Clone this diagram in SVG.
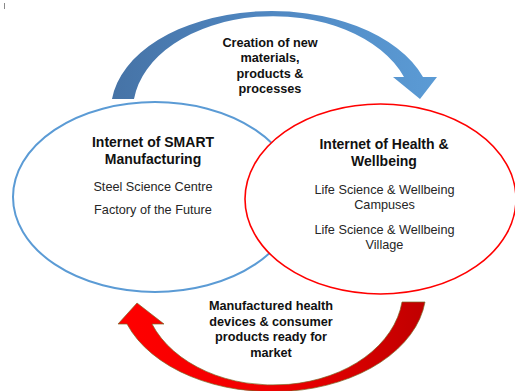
<svg xmlns="http://www.w3.org/2000/svg" width="515" height="391" viewBox="0 0 515 391">
  <defs>
    <linearGradient id="blueGrad" x1="0" y1="0" x2="1" y2="0">
      <stop offset="0" stop-color="#4673a6"/>
      <stop offset="0.45" stop-color="#4f86c0"/>
      <stop offset="1" stop-color="#5b9bd5"/>
    </linearGradient>
    <linearGradient id="redGrad" x1="0" y1="0" x2="1" y2="0">
      <stop offset="0" stop-color="#ff0000"/>
      <stop offset="0.5" stop-color="#f00000"/>
      <stop offset="1" stop-color="#c00000"/>
    </linearGradient>
  </defs>
  <style>
    .bold { font-family: "Liberation Sans", Arial, sans-serif; font-weight: bold; fill: #111111; text-anchor: middle; }
    .reg { font-family: "Liberation Sans", Arial, sans-serif; fill: #262626; text-anchor: middle; font-size: 12.7px; }
    .title { font-size: 14px; }
    .lbl { font-size: 12.7px; }
  </style>
  <rect width="515" height="391" fill="#ffffff"/>
  <line x1="4.5" y1="3" x2="4.5" y2="9" stroke="#8a8a8a" stroke-width="1"/>

  <g id="smart-manufacturing">
    <ellipse cx="155" cy="197" rx="142" ry="95" fill="#ffffff" stroke="#5b9bd5" stroke-width="2"/>
    <text class="bold title" x="153" y="146.5">Internet of SMART</text>
    <text class="bold title" x="153" y="163.5">Manufacturing</text>
    <text class="reg" x="153" y="190.7">Steel Science Centre</text>
    <text class="reg" x="153" y="214.3">Factory of the Future</text>
  </g>

  <g id="health-wellbeing">
    <ellipse cx="380.5" cy="199" rx="135.5" ry="95" fill="#ffffff" stroke="#ff0000" stroke-width="1.6"/>
    <text class="bold title" x="384" y="149.3">Internet of Health &amp;</text>
    <text class="bold title" x="384" y="166.3">Wellbeing</text>
    <text class="reg" x="384.5" y="194.3">Life Science &amp; Wellbeing</text>
    <text class="reg" x="384.5" y="209.3">Campuses</text>
    <text class="reg" x="384.5" y="234.3">Life Science &amp; Wellbeing</text>
    <text class="reg" x="384.5" y="249.3">Village</text>
  </g>

  <g id="connectors">
    <g id="top-arrow">
      <path d="M112,99 A160.6,99 0 0 1 423,77 L437,77 L420,99 L393,77 L404,77 A140,94 0 0 0 134,99 Z" fill="url(#blueGrad)"/>
      <text class="bold lbl" x="270" y="46.5">Creation of new</text>
      <text class="bold lbl" x="270" y="62">materials,</text>
      <text class="bold lbl" x="270" y="77.5">products &amp;</text>
      <text class="bold lbl" x="270" y="93">processes</text>
    </g>
    <g id="bottom-arrow">
      <path d="M425,302 A154,102 0 0 1 127,324 L118,324 L137,303 L164,324 L152,324 A129.8,95 0 0 0 402,302 Z" fill="url(#redGrad)" stroke="#7a6a2a" stroke-width="0.7"/>
      <text class="bold lbl" x="271" y="310">Manufactured health</text>
      <text class="bold lbl" x="271" y="325.5">devices &amp; consumer</text>
      <text class="bold lbl" x="271" y="341">products ready for</text>
      <text class="bold lbl" x="271" y="356.5">market</text>
    </g>
  </g>
</svg>
